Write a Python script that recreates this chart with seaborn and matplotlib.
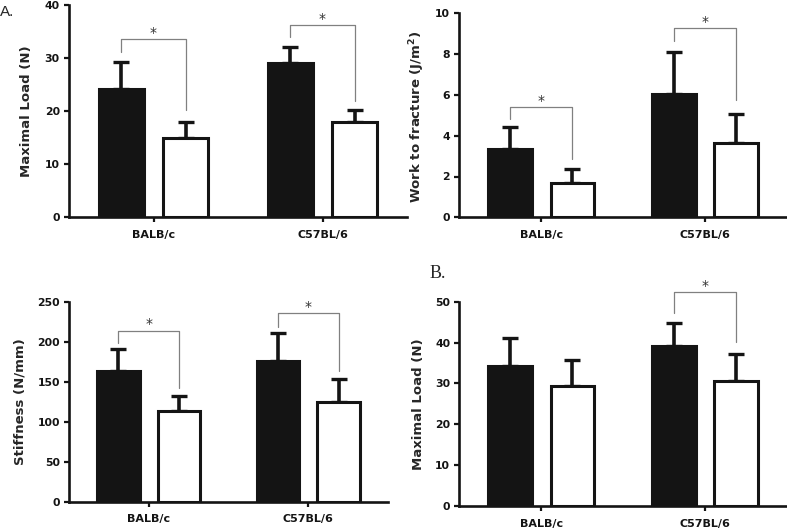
import matplotlib
matplotlib.use("Agg")
import matplotlib.pyplot as plt
from matplotlib.container import BarContainer
from matplotlib.font_manager import FontProperties
import seaborn as sns
import pandas as pd

sns.set_style("ticks")
plt.rcParams["font.family"] = ["DejaVu Sans"]

# ---------------- data ----------------
strains = ["BALB/c", "C57BL/6"]
groups = ["Control", "Treated"]

# Panel A1: Maximal load (N)
load_a_mean = [24.2, 15.0, 29.0, 17.9]
load_a_sd = [5.1, 3.0, 3.1, 2.3]
# Panel A2: Work to fracture (J/m^2)
work_mean = [3.33, 1.70, 6.04, 3.66]
work_sd = [1.11, 0.67, 2.08, 1.39]
# Panel A3: Stiffness (N/mm)
stiff_mean = [163.7, 113.4, 175.9, 124.2]
stiff_sd = [27.3, 18.6, 34.6, 29.6]
# Panel B: Maximal load (N)
load_b_mean = [34.3, 29.4, 39.2, 30.6]
load_b_sd = [6.7, 6.3, 5.7, 6.6]

# significance brackets: (strain index, top, left leg end, right leg end)
sig_load_a = [(0, 33.5, 31.1, 20.2), (1, 36.2, 33.9, 21.8)]
sig_work = [(0, 5.42, 4.82, 2.84), (1, 9.28, 8.66, 5.75)]
sig_stiff = [(0, 214, 198.8, 141.7), (1, 235.5, 218, 163.4)]
sig_load_b = [(1, 52.4, 47.2, 40.1)]

W, H = 787, 528
fig = plt.figure(figsize=(W / 100, H / 100), dpi=100)


def add_ax(left, right, top, bottom):
    return fig.add_axes([left / W, 1 - bottom / H, (right - left) / W, (bottom - top) / H])


BLACK = "#141414"


def panel(ax, means, sds, sigs, ylim, yticks, ylabel):
    df = pd.DataFrame({
        "strain": [s for s in strains for _ in groups],
        "group": [g for _ in strains for g in groups],
        "value": means,
    })
    sns.barplot(data=df, x="strain", y="value", hue="group", order=strains,
                hue_order=groups, palette=[BLACK, "white"], edgecolor=BLACK,
                linewidth=2.2, width=0.76, gap=0.3, errorbar=None,
                legend=False, ax=ax, zorder=3)
    bar_conts = [c for c in ax.containers if isinstance(c, BarContainer)]
    centers = {}
    for h, cont in enumerate(bar_conts):
        for i, bar in enumerate(cont.patches):
            xc = bar.get_x() + bar.get_width() / 2
            centers[(i, h)] = xc
    for (i, h), xc in centers.items():
        k = i * len(groups) + h
        ax.errorbar([xc], [means[k]], yerr=[[0], [sds[k]]], fmt="none",
                    ecolor=BLACK, elinewidth=2.6, capsize=5.8,
                    capthick=2.4, zorder=2, clip_on=False)
    for (i, top, lbot, rbot) in sigs:
        x0, x1 = centers[(i, 0)], centers[(i, 1)]
        ax.plot([x0, x0, x1, x1], [lbot, top, top, rbot], color="#808080",
                lw=0.9, clip_on=False, zorder=4)
        ax.annotate("*", xy=((x0 + x1) / 2, top), xytext=(0, 1.5),
                    textcoords="offset points", ha="center", va="baseline",
                    fontsize=10, color="#333333", annotation_clip=False)
    ax.set_xlim(-0.5, 1.5)
    ax.set_ylim(*ylim)
    ax.set_yticks(yticks)
    ax.set_xlabel("")
    ax.set_ylabel(ylabel, fontsize=9.5, fontweight="bold")
    ax.yaxis.label.set_va("center")
    sns.despine(ax=ax)
    for s in ["left", "bottom"]:
        ax.spines[s].set_linewidth(1.9)
        ax.spines[s].set_color(BLACK)
    ax.tick_params(axis="y", length=3.6, width=1.6, pad=3, labelsize=7.8,
                   colors=BLACK)
    ax.tick_params(axis="x", length=3.6, width=1.6, pad=5.5, labelsize=8,
                   colors=BLACK)
    for lab in ax.get_xticklabels() + ax.get_yticklabels():
        lab.set_fontweight("bold")
    ax.set_facecolor("none")


ax1 = add_ax(69, 407, 5, 217)
panel(ax1, load_a_mean, load_a_sd, sig_load_a, (0, 40), [0, 10, 20, 30, 40],
      "Maximal Load (N)")
ax1.yaxis.set_label_coords((27 - 69) / (407 - 69), 0.5)

ax2 = add_ax(459.3, 787, 13.3, 217.3)
panel(ax2, work_mean, work_sd, sig_work, (0, 10), [0, 2, 4, 6, 8, 10],
      "Work to fracture (J/m$^{\\mathbf{2}}$)")
ax2.yaxis.set_label_coords((417 - 459.3) / (787 - 459.3), 0.49)

ax3 = add_ax(69, 388, 301.7, 501.7)
panel(ax3, stiff_mean, stiff_sd, sig_stiff, (0, 250), [0, 50, 100, 150, 200, 250],
      "Stiffness (N/mm)")
ax3.yaxis.set_label_coords((20 - 69) / (388 - 69), 0.5)

ax4 = add_ax(459.3, 787, 301.7, 506)
panel(ax4, load_b_mean, load_b_sd, sig_load_b, (0, 50), [0, 10, 20, 30, 40, 50],
      "Maximal Load (N)")
ax4.yaxis.set_label_coords((418 - 459.3) / (787 - 459.3), 0.5)

fig.text(0 / W, 1 - 16.5 / H, "A.", fontproperties=FontProperties(family="Liberation Sans", size=11),
         ha="left", va="baseline")
fig.text(430 / W, 1 - 278 / H, "B.", fontproperties=FontProperties(family="Liberation Serif", size=13),
         ha="left", va="baseline")

fig.savefig("out.png", dpi=100, facecolor="white")
